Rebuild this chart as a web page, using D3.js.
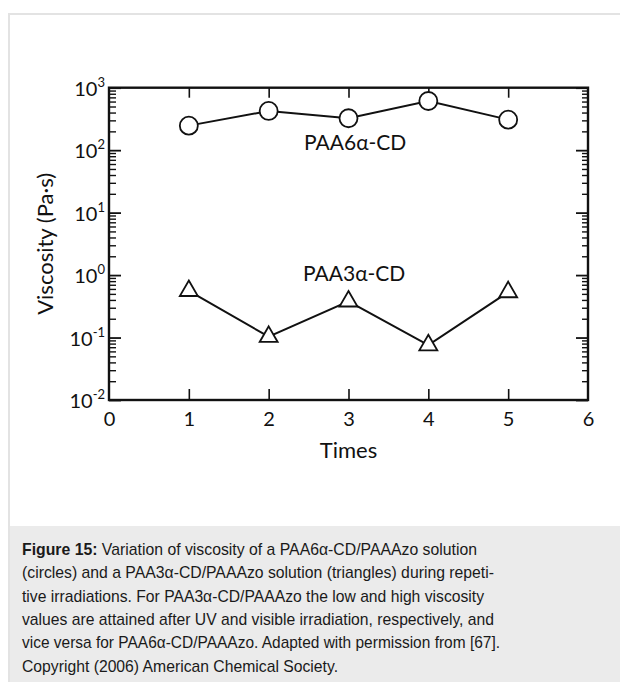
<!DOCTYPE html>
<html><head><meta charset="utf-8">
<script src="https://cdn.jsdelivr.net/npm/d3@7"></script>
<style>body{margin:0;background:#fff;overflow:hidden}</style>
</head><body><svg id="c" width="620" height="682"></svg>
<script>
// ---- data ----
const times = [1, 2, 3, 4, 5];
const paa6 = [247, 424, 324, 612, 308];      // circles
const paa3 = [0.56, 0.103, 0.38, 0.0755, 0.535]; // triangles
const xTickLabels = [0, 1, 2, 3, 4, 5, 6];
const xTickMarks = [1, 2, 3, 4, 5];
const yTickExps = [3, 2, 1, 0, -1, -2];
const seriesLabels = ["PAA6α-CD", "PAA3α-CD"];
const xTitle = "Times";
const yTitle = "Viscosity (Pa·s)";
const captionBold = "Figure 15:";
const captionLines = [
  " Variation of viscosity of a PAA6α-CD/PAAAzo solution",
  "(circles) and a PAA3α-CD/PAAAzo solution (triangles) during repeti-",
  "tive irradiations. For PAA3α-CD/PAAAzo the low and high viscosity",
  "values are attained after UV and visible irradiation, respectively, and",
  "vice versa for PAA6α-CD/PAAAzo. Adapted with permission from [67].",
  "Copyright (2006) American Chemical Society."
];
const captionWidths = [455, 472, 462, 472, 478, 316];

// ---- drawing ----
const svg = d3.select("#c");
const chartFont = "Lato, 'Open Sans', sans-serif";

// outer frame
svg.append("path").attr("d", "M9,682V14H620").attr("fill", "none")
  .attr("stroke", "#e3e3e3").attr("stroke-width", 2);

const L = 109, R = 588, T = 87.7, B = 400;
const x = d3.scaleLinear([0, 6], [L, R]);
const y = d3.scaleLog([1e-2, 1e3], [B, T]);

const majors = yTickExps.map(e => Math.pow(10, e));
const minors = [];
for (let e = -2; e < 3; e++) for (let k = 2; k <= 9; k++) minors.push(k * Math.pow(10, e));

function styleAxis(g, w) {
  g.select(".domain").remove();
  g.selectAll("line").attr("stroke", "#111").attr("stroke-width", w);
}
// left
svg.append("g").attr("transform", `translate(${L},0)`)
  .call(d3.axisLeft(y).tickValues(majors).tickSize(-12).tickFormat(""))
  .call(g => styleAxis(g, 1.8));
svg.append("g").attr("transform", `translate(${L},0)`)
  .call(d3.axisLeft(y).tickValues(minors).tickSize(-7).tickFormat(""))
  .call(g => styleAxis(g, 1.4));
// right
svg.append("g").attr("transform", `translate(${R},0)`)
  .call(d3.axisRight(y).tickValues(majors).tickSize(-12).tickFormat(""))
  .call(g => styleAxis(g, 1.8));
svg.append("g").attr("transform", `translate(${R},0)`)
  .call(d3.axisRight(y).tickValues(minors).tickSize(-6).tickFormat(""))
  .call(g => styleAxis(g, 1.4));
// top / bottom
svg.append("g").attr("transform", `translate(0,${T})`)
  .call(d3.axisTop(x).tickValues(xTickMarks).tickSize(-10).tickFormat(""))
  .call(g => styleAxis(g, 1.6));
svg.append("g").attr("transform", `translate(0,${B})`)
  .call(d3.axisBottom(x).tickValues(xTickMarks).tickSize(-11).tickFormat(""))
  .call(g => styleAxis(g, 1.6));
// bottom labels
svg.append("g").attr("transform", `translate(0,${B})`)
  .call(d3.axisBottom(x).tickValues(xTickLabels).tickSize(0).tickPadding(12).tickFormat(d3.format("d")))
  .call(g => {
    g.select(".domain").remove();
    g.selectAll("text").attr("font-family", chartFont).attr("font-size", 20).attr("fill", "#111");
  });

// frame
svg.append("rect").attr("x", L).attr("y", T).attr("width", R - L).attr("height", B - T)
  .attr("fill", "none").attr("stroke", "#111").attr("stroke-width", 2.4);

// y tick labels with superscripts
const yl = svg.append("g").attr("font-family", chartFont).attr("fill", "#111");
yTickExps.forEach(e => {
  const t = yl.append("text").attr("x", 105).attr("y", y(Math.pow(10, e)) + 8)
    .attr("text-anchor", "end").attr("font-size", 20);
  t.append("tspan").text("10");
  t.append("tspan").attr("font-size", 13).attr("dy", -9).text(String(e));
});

// titles
svg.append("text").attr("x", (x(0) + x(6)) / 2).attr("y", 458).attr("text-anchor", "middle")
  .attr("font-family", chartFont).attr("font-size", 22).attr("fill", "#111").text(xTitle);
svg.append("text").attr("transform", `translate(53,${(T + B) / 2}) rotate(-90)`)
  .attr("text-anchor", "middle").attr("font-family", chartFont).attr("font-size", 22)
  .attr("fill", "#111").text(yTitle);

// lines
const line = d3.line().x((d, i) => x(times[i])).y(d => y(d));
[paa6, paa3].forEach(s => {
  svg.append("path").attr("d", line(s)).attr("fill", "none")
    .attr("stroke", "#111").attr("stroke-width", 2);
});
// markers
svg.append("g").selectAll("circle").data(paa6).join("circle")
  .attr("cx", (d, i) => x(times[i])).attr("cy", d => y(d)).attr("r", 9)
  .attr("fill", "#fff").attr("stroke", "#111").attr("stroke-width", 1.8);
const tri = d3.symbol(d3.symbolTriangle, 140);
svg.append("g").selectAll("path").data(paa3).join("path")
  .attr("transform", (d, i) => `translate(${x(times[i])},${y(d)})`).attr("d", tri)
  .attr("fill", "#fff").attr("stroke", "#111").attr("stroke-width", 1.8);

// series labels
svg.append("text").attr("x", 304).attr("y", 150).attr("font-family", chartFont)
  .attr("font-size", 21).attr("fill", "#111").text(seriesLabels[0]);
svg.append("text").attr("x", 303).attr("y", 281).attr("font-family", chartFont)
  .attr("font-size", 21).attr("fill", "#111").text(seriesLabels[1]);

// caption
svg.append("rect").attr("x", 10).attr("y", 526).attr("width", 610).attr("height", 156).attr("fill", "#ebebeb");
const cap = svg.append("g").attr("font-family", "'Liberation Sans', Arial, sans-serif")
  .attr("font-size", 17).attr("fill", "#1a1a1a");
captionLines.forEach((ln, i) => {
  const t = cap.append("text").attr("x", 22).attr("y", 555 + i * 23.35)
    .attr("textLength", captionWidths[i]).attr("lengthAdjust", "spacingAndGlyphs");
  if (i === 0) t.append("tspan").attr("font-weight", "bold").text(captionBold);
  t.append("tspan").text(ln);
});
</script></body></html>
